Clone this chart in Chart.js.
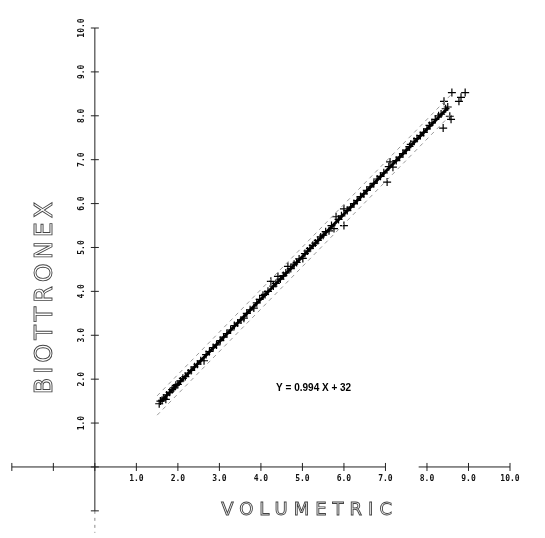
<!DOCTYPE html>
<html>
<head>
<meta charset="utf-8">
<script src="https://cdn.jsdelivr.net/npm/chart.js@4.4.0/dist/chart.umd.min.js"></script>
<style>
    html, body { margin: 0; padding: 0; background: #fff; }
    #wrap { width: 545px; height: 538px; }
</style>
</head>
<body>
<div id="wrap"><canvas id="chart" width="545" height="538"></canvas></div>
<script>
const volumetric = [
    1.55, 1.58, 1.62, 1.66, 1.71, 1.73, 1.80, 1.86, 1.90, 1.95,
    2.00, 2.06, 2.12, 2.18, 2.25, 2.32, 2.40, 2.47, 2.55, 2.63,
    2.68, 2.76, 2.85, 2.93, 3.02, 3.10, 3.18, 3.27, 3.36, 3.44,
    3.52, 3.59, 3.66, 3.74, 3.83, 3.90, 3.97, 4.05, 4.10, 4.17,
    4.24, 4.30, 4.36, 4.41, 4.47, 4.54, 4.60, 4.65, 4.72, 4.80,
    4.86, 4.92, 5.01, 5.06, 5.12, 5.18, 5.25, 5.31, 5.37, 5.44,
    5.50, 5.56, 5.64, 5.70, 5.76, 5.81, 5.87, 5.94, 6.00, 6.00,
    6.08, 6.16, 6.24, 6.32, 6.40, 6.48, 6.55, 6.63, 6.72, 6.80,
    6.88, 6.96, 7.04, 7.08, 7.11, 7.18, 7.26, 7.34, 7.42, 7.50,
    7.58, 7.61, 7.69, 7.76, 7.84, 7.92, 8.00, 8.06, 8.12, 8.20,
    8.28, 8.34, 8.39, 8.41, 8.45, 8.50, 8.55, 8.58, 8.60, 8.77,
    8.82, 8.92
];
const biotronex = [
    1.44, 1.50, 1.52, 1.57, 1.54, 1.64, 1.70, 1.76, 1.80, 1.86,
    1.88, 1.96, 2.02, 2.06, 2.14, 2.20, 2.28, 2.34, 2.42, 2.42,
    2.56, 2.63, 2.72, 2.78, 2.88, 2.96, 3.04, 3.12, 3.22, 3.28,
    3.35, 3.39, 3.50, 3.58, 3.62, 3.74, 3.82, 3.91, 3.93, 4.00,
    4.23, 4.12, 4.18, 4.34, 4.28, 4.36, 4.42, 4.57, 4.52, 4.62,
    4.66, 4.74, 4.75, 4.86, 4.92, 4.98, 5.05, 5.10, 5.16, 5.24,
    5.28, 5.36, 5.38, 5.50, 5.43, 5.70, 5.64, 5.72, 5.88, 5.50,
    5.84, 5.92, 6.00, 6.07, 6.16, 6.22, 6.30, 6.38, 6.46, 6.56,
    6.62, 6.70, 6.49, 6.84, 6.95, 6.83, 6.98, 7.06, 7.14, 7.22,
    7.30, 7.35, 7.42, 7.48, 7.55, 7.62, 7.70, 7.78, 7.84, 7.92,
    8.00, 8.04, 7.72, 8.33, 8.16, 8.20, 7.99, 7.92, 8.53, 8.33,
    8.42, 8.53
];

// regression line and its dashed bands
const fitX = [1.59, 8.51];
const fitY = [1.49, 8.19];
const bandX = [1.50, 8.60];
const upperY = [1.62, 8.50];
const lowerY = [1.18, 8.05];

// axis ticks
const xTicks = [-2, -1, 0, 1, 2, 3, 4, 5, 6, 7, 8, 9, 10];
const xTickLabels = ['', '', '', '1.0', '2.0', '3.0', '4.0', '5.0', '6.0', '7.0', '8.0', '9.0', '10.0'];
const yTicks = [-1, 0, 1, 2, 3, 4, 5, 6, 7, 8, 9, 10];
const yTickLabels = ['', '', '1.0', '2.0', '3.0', '4.0', '5.0', '6.0', '7.0', '8.0', '9.0', '10.0'];
const xAxisGap = [7.0, 7.8];

const xTitle = 'VOLUMETRIC';
const yTitle = 'BIOTTRONEX';
const equation = 'Y = 0.994 X + 32';

function pairs(xs, ys) {
    return xs.map((x, i) => ({ x: x, y: ys[i] }));
}

// hand drawn axes crossing at the origin, plus the titles
const plotterAxes = {
    id: 'plotterAxes',
    beforeDatasetsDraw(chart) {
        const ctx = chart.ctx;
        const xs = chart.scales.x;
        const ys = chart.scales.y;
        const x0 = xs.getPixelForValue(0);
        const y0 = ys.getPixelForValue(0);

        ctx.save();
        ctx.strokeStyle = '#222';
        ctx.lineWidth = 1;

        // x axis with its gap
        ctx.beginPath();
        ctx.moveTo(xs.getPixelForValue(xTicks[0]), y0);
        ctx.lineTo(xs.getPixelForValue(xAxisGap[0]), y0);
        ctx.moveTo(xs.getPixelForValue(xAxisGap[1]), y0);
        ctx.lineTo(xs.getPixelForValue(xTicks[xTicks.length - 1]), y0);
        ctx.stroke();

        // y axis
        ctx.beginPath();
        ctx.moveTo(x0, ys.getPixelForValue(yTicks[yTicks.length - 1]));
        ctx.lineTo(x0, ys.getPixelForValue(yTicks[0]));
        ctx.stroke();
        ctx.setLineDash([3, 4]);
        ctx.strokeStyle = '#888';
        ctx.beginPath();
        ctx.moveTo(x0, ys.getPixelForValue(yTicks[0]));
        ctx.lineTo(x0, ys.bottom);
        ctx.stroke();
        ctx.setLineDash([]);
        ctx.strokeStyle = '#222';

        // tick marks
        ctx.beginPath();
        xTicks.forEach(v => {
            const px = xs.getPixelForValue(v);
            ctx.moveTo(px, y0 - 4);
            ctx.lineTo(px, y0 + 4);
        });
        yTicks.forEach(v => {
            const py = ys.getPixelForValue(v);
            ctx.moveTo(x0 - 4, py);
            ctx.lineTo(x0 + 4, py);
        });
        ctx.stroke();

        // tick labels
        ctx.fillStyle = '#111';
        ctx.font = "bold 8px 'DejaVu Sans Mono'";
        ctx.textAlign = 'center';
        ctx.textBaseline = 'middle';
        xTicks.forEach((v, i) => {
            if (!xTickLabels[i]) return;
            ctx.fillText(xTickLabels[i], xs.getPixelForValue(v), y0 + 12);
        });
        yTicks.forEach((v, i) => {
            if (!yTickLabels[i]) return;
            ctx.save();
            ctx.translate(x0 - 13, ys.getPixelForValue(v));
            ctx.rotate(-Math.PI / 2);
            ctx.fillText(yTickLabels[i], 0, 0);
            ctx.restore();
        });
        ctx.restore();
    },
    afterDraw(chart) {
        const ctx = chart.ctx;
        const xs = chart.scales.x;
        const ys = chart.scales.y;
        ctx.save();

        // outlined plotter lettering for the axis titles
        ctx.strokeStyle = '#444';
        ctx.lineWidth = 0.9;
        ctx.textAlign = 'center';
        ctx.textBaseline = 'middle';

        ctx.font = "18px 'DejaVu Sans'";
        ctx.letterSpacing = '6px';
        ctx.strokeText(xTitle, xs.getPixelForValue(5.1) + 3, ys.getPixelForValue(0) + 43);

        ctx.font = "24px 'DejaVu Sans'";
        ctx.letterSpacing = '4px';
        ctx.save();
        ctx.translate(46, ys.getPixelForValue(3.85));
        ctx.rotate(-Math.PI / 2);
        ctx.strokeText(yTitle, 2, 0);
        ctx.restore();

        // regression equation
        ctx.letterSpacing = '0px';
        ctx.fillStyle = '#000';
        ctx.font = "bold 10px 'Liberation Sans'";
        ctx.fillText(equation, xs.getPixelForValue(5.27), ys.getPixelForValue(1.86) + 3);
        ctx.restore();
    }
};

new Chart(document.getElementById('chart'), {
    type: 'scatter',
    data: {
        datasets: [
            {
                label: 'upper',
                type: 'line',
                data: pairs(bandX, upperY),
                borderColor: '#999',
                borderWidth: 1,
                borderDash: [4, 4],
                pointRadius: 0,
                fill: false
            },
            {
                label: 'lower',
                type: 'line',
                data: pairs(bandX, lowerY),
                borderColor: '#999',
                borderWidth: 1,
                borderDash: [4, 4],
                pointRadius: 0,
                fill: false
            },
            {
                label: 'fit',
                type: 'line',
                data: pairs(fitX, fitY),
                borderColor: '#000',
                borderWidth: 3,
                pointRadius: 0,
                fill: false
            },
            {
                label: 'samples',
                data: pairs(volumetric, biotronex),
                pointStyle: 'cross',
                pointRadius: 4,
                borderColor: '#000',
                borderWidth: 1.2,
                backgroundColor: '#000'
            }
        ]
    },
    options: {
        responsive: false,
        animation: false,
        layout: { padding: { left: 11, right: 35, top: 28, bottom: 2 } },
        plugins: {
            legend: { display: false },
            tooltip: { enabled: false }
        },
        scales: {
            x: { type: 'linear', min: -2.02, max: 10, display: false },
            y: { type: 'linear', min: -1.5, max: 10, display: false }
        }
    },
    plugins: [plotterAxes]
});
</script>
</body>
</html>
